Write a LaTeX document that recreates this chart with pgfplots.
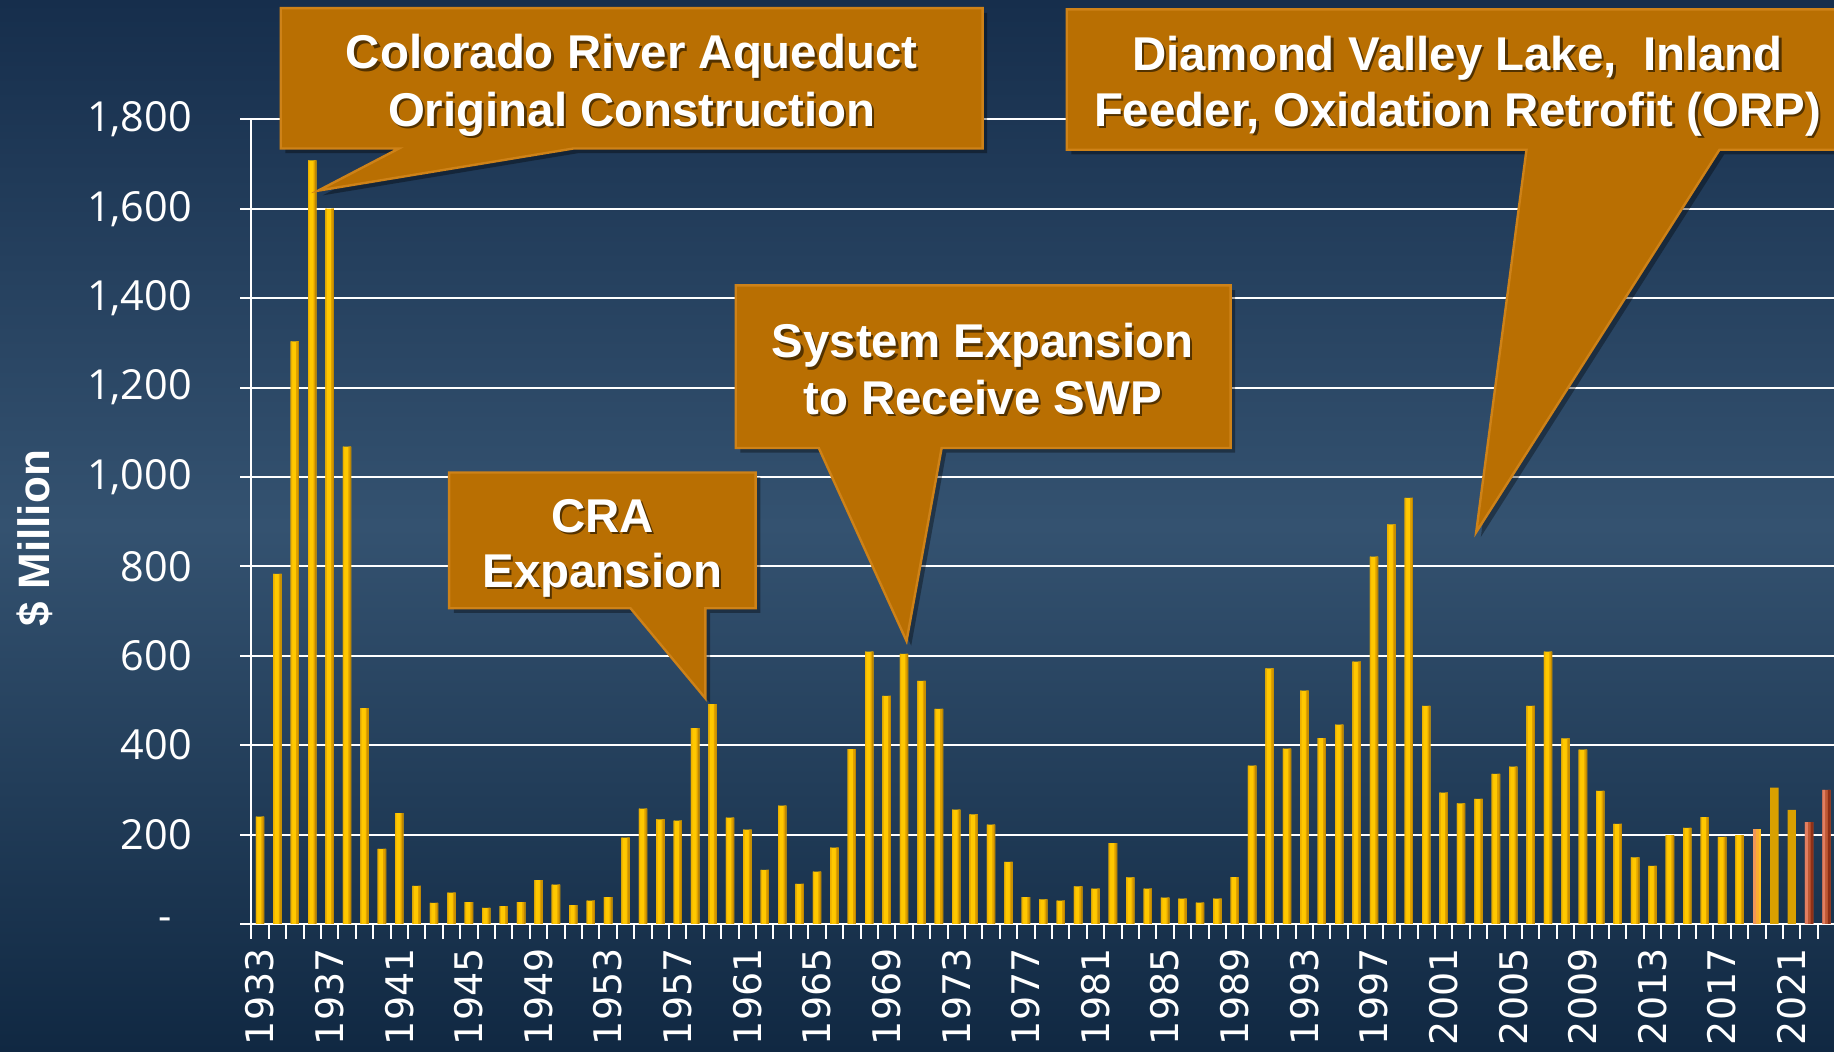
\documentclass[border=0pt]{standalone}
\usepackage{fontspec}
\setmainfont{Open Sans}
\newfontfamily\yearfont{DejaVu Sans}
\newfontfamily\callfont{Liberation Sans}
\usepackage{pgfplots}
\usepackage{pgfplotstable}
\pgfplotsset{compat=1.18}

\definecolor{bgtop}{RGB}{22,46,76}
\definecolor{bgmid}{RGB}{52,82,112}
\definecolor{bgbot}{RGB}{16,40,66}
\definecolor{callfill}{RGB}{185,111,2}
\definecolor{calledge}{RGB}{206,130,24}

\pgfplotstableread{
year val
1933 240
1934 783
1935 1303
1936 1708
1937 1600
1938 1068
1939 483
1940 168
1941 248
1942 85
1943 47
1944 70
1945 49
1946 36
1947 40
1948 49
1949 98
1950 88
1951 42
1952 52
1953 60
1954 193
1955 258
1956 234
1957 231
1958 438
1959 492
1960 238
1961 211
1962 121
1963 265
1964 90
1965 117
1966 171
1967 391
1968 609
1969 510
1970 604
1971 544
1972 481
1973 256
1974 245
1975 222
1976 139
1977 60
1978 55
1979 52
1980 84
1981 79
1982 181
1983 104
1984 79
1985 59
1986 57
1987 48
1988 57
1989 105
1990 354
1991 572
1992 392
1993 522
1994 416
1995 446
1996 587
1997 822
1998 894
1999 953
2000 488
2001 294
2002 270
2003 280
2004 336
2005 352
2006 488
2007 609
2008 415
2009 390
2010 298
2011 224
2012 149
2013 130
2014 199
2015 215
2016 239
2017 195
2018 199
}\mainbars
\pgfplotstableread{
year val
2019 213
}\salbars
\pgfplotstableread{
year val
2020 305
2021 255
}\goldbars
\pgfplotstableread{
year val
2022 228
2023 300
}\redbars

\tikzset{
  ctxt/.style={font=\callfont\bfseries\fontsize{23.7pt}{28pt}\selectfont, anchor=base, inner sep=0pt},
  cbox/.style={fill=callfill, draw=calledge, line width=1.2pt, line join=miter},
  cshadow/.style={fill=black, opacity=0.35},
}
\newcommand\ctext[3]{%
  \node[ctxt, text=black, opacity=0.55, xshift=1.2pt, yshift=-1.2pt] at (#1,#2) {#3};
  \node[ctxt, text=white] at (#1,#2) {#3};}
% one strip of every bar of a table: width, shift, colour, table
\newcommand\strip[4]{\addplot[ybar, bar width=#1, bar shift=#2, draw=none, fill=#3] table[x=year, y=val]{#4};}

\begin{document}
\begin{tikzpicture}
\useasboundingbox (-125.65pt,-64pt) rectangle (791.35pt,462pt);
\clip (-125.65pt,-64pt) rectangle (791.35pt,462pt);
\shade[top color=bgtop, bottom color=bgbot, middle color=bgmid] (-125.65pt,-64pt) rectangle (791.35pt,462pt);

\begin{axis}[
  at={(0,0)}, anchor=south west,
  scale only axis, width=791.35pt, height=402.35pt,
  xmin=1932.5, xmax=2023.43, ymin=0, ymax=1800,
  axis lines*=left,
  axis line style={white, line width=1pt},
  ytick={0,200,...,1800},
  yticklabels={{-\kern10pt},200,400,600,800,{1,000},{1,200},{1,400},{1,600},{1,800}},
  xtick={1933,1937,...,2021},
  xticklabels={1933,1937,1941,1945,1949,1953,1957,1961,1965,1969,1973,1977,1981,1985,1989,1993,1997,2001,2005,2009,2013,2017,2021},
  minor xtick={1932.5,1933.5,...,2023.5},
  major x tick style={draw=none},
  tick align=outside,
  major tick length=5.5pt, minor tick length=7.5pt,
  tick style={white, line width=1pt},
  ymajorgrids, grid style={white, line width=1pt},
  yticklabel style={white, font=\fontsize{20.7pt}{24pt}\selectfont, anchor=east, inner sep=0pt},
  yticklabel shift=24pt,
  xticklabel style={white, font=\yearfont\fontsize{19pt}{23pt}\selectfont, rotate=90, anchor=east, inner sep=0pt},
  xticklabel shift=6.5pt,
]
% main golden bars, built from strips to give each bar its left-to-right shading
\strip{0.48}{0pt}{{rgb,255:red,255;green,200;blue,0}}{\mainbars}
\strip{0.08}{-0.2}{{rgb,255:red,236;green,176;blue,0}}{\mainbars}
\strip{0.16}{0.16}{{rgb,255:red,224;green,162;blue,0}}{\mainbars}
\strip{0.07}{0.205}{{rgb,255:red,192;green,136;blue,0}}{\mainbars}
% 2019
\strip{0.48}{0pt}{{rgb,255:red,250;green,172;blue,50}}{\salbars}
\strip{0.18}{-0.15}{{rgb,255:red,240;green,150;blue,88}}{\salbars}
\strip{0.14}{0.17}{{rgb,255:red,255;green,190;blue,30}}{\salbars}
% 2020-2021
\strip{0.48}{0pt}{{rgb,255:red,217;green,160;blue,0}}{\goldbars}
% 2022-2023
\strip{0.48}{0pt}{{rgb,255:red,190;green,88;blue,52}}{\redbars}
\strip{0.16}{-0.16}{{rgb,255:red,226;green,126;blue,96}}{\redbars}
\strip{0.16}{0.16}{{rgb,255:red,142;green,48;blue,22}}{\redbars}
\end{axis}

\begin{scope}[shift={(-125.65pt,462pt)}, x=0.58485pt, y=-0.58485pt]
  \node[rotate=90, font=\callfont\bfseries\fontsize{22pt}{26pt}\selectfont, text=white] at (30,460) {\$ Million};
  \fill[cshadow] (244,11) -- (844,11) -- (844,131) -- (494,131) -- (276,167) -- (345,131) -- (244,131) -- cycle;
  \path[cbox] (240,7) -- (840,7) -- (840,127) -- (490,127) -- (272,163) -- (341,127) -- (240,127) -- cycle;
  \ctext{540}{59}{Colorado River Aqueduct}
  \ctext{540}{108}{Original Construction}
  \fill[cshadow] (388,408) -- (650,408) -- (650,524) -- (607,524) -- (607,601) -- (543,524) -- (388,524) -- cycle;
  \path[cbox] (384,404) -- (646,404) -- (646,520) -- (603,520) -- (603,597) -- (539,520) -- (384,520) -- cycle;
  \ctext{515}{455}{CRA}
  \ctext{515}{502}{Expansion}
  \fill[cshadow] (633,248) -- (1056,248) -- (1056,387) -- (809,387) -- (779,552) -- (704,387) -- (633,387) -- cycle;
  \path[cbox] (629,244) -- (1052,244) -- (1052,383) -- (805,383) -- (775,548) -- (700,383) -- (629,383) -- cycle;
  \ctext{840}{306}{System Expansion}
  \ctext{840}{354}{to Receive SWP}
  \fill[cshadow] (916,12) -- (1594,12) -- (1594,132) -- (1474,132) -- (1266,459) -- (1309,132) -- (916,132) -- cycle;
  \path[cbox] (912,8) -- (1590,8) -- (1590,128) -- (1470,128) -- (1262,455) -- (1305,128) -- (912,128) -- cycle;
  \ctext{1246}{60}{Diamond Valley Lake,~ Inland}
  \ctext{1246}{108}{Feeder, Oxidation Retrofit (ORP)}
\end{scope}
\end{tikzpicture}
\end{document}
